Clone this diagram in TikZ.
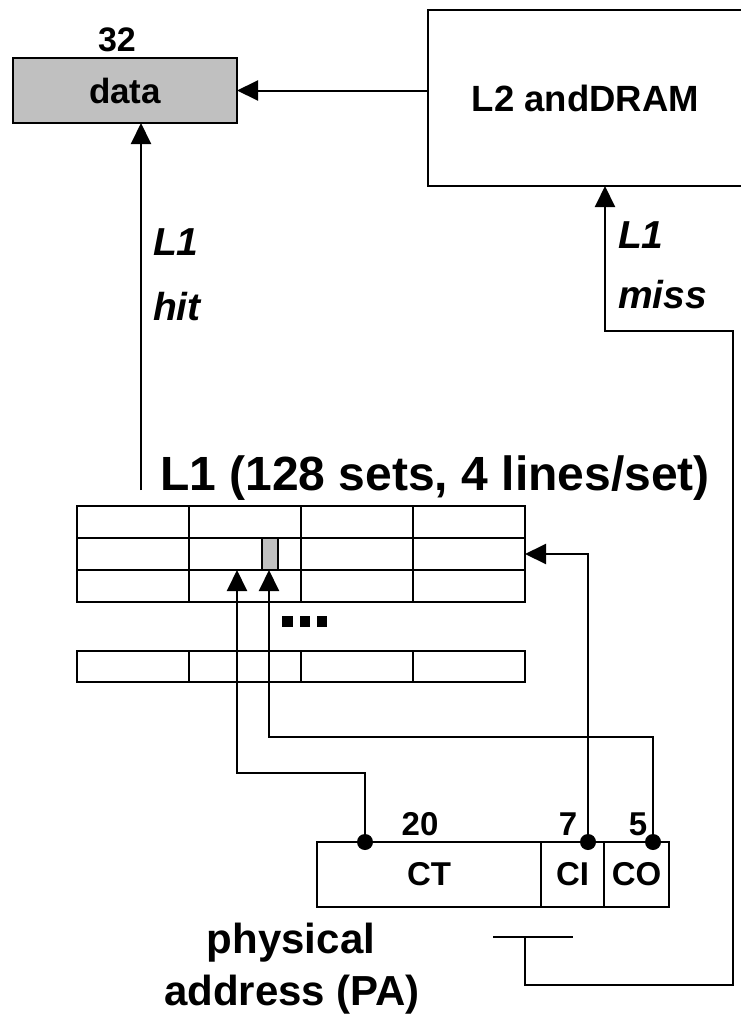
\documentclass[tikz,border=0pt]{standalone}
\usepackage{fontspec}
\setmainfont{Liberation Sans}
\usetikzlibrary{arrows.meta}
\definecolor{boxgray}{HTML}{C0C0C0}
\newcommand\fs[1]{\fontsize{#1}{#1}\selectfont}
\begin{document}
\begin{tikzpicture}[x=1pt,y=-1pt,
  line width=2pt,
  box/.style={draw, rectangle, inner sep=0pt, outer sep=0pt, font=\bfseries},
  lbl/.style={inner sep=0pt, outer sep=0pt, font=\bfseries},
  ilbl/.style={inner sep=0pt, outer sep=0pt, font=\bfseries\itshape, anchor=base west},
  arr/.style={-{Triangle[length=21pt,width=20pt]}},
  pin/.style={circle, fill, inner sep=0pt, minimum size=16pt},
  sq/.style={fill, rectangle, inner sep=0pt, minimum size=10.5pt}]
\useasboundingbox (0,0) rectangle (740,1020);

% top boxes
\node[box, fill=boxgray, minimum width=224pt, minimum height=65pt] (data) at (125,90.5) {\fs{35}data};
\node[lbl, anchor=base] (w32) at (117,51) {\fs{34}32};
\node[box, minimum width=315pt, minimum height=176pt] (l2) at (585.5,98) {\fs{36.5}L2 andDRAM};

% L1 title
\node[lbl, anchor=base] (title) at (435,490) {\fs{48}L1 (128 sets, 4 lines/set)};

% cache grid
\foreach \r/\y in {1/522,2/554,3/586}
  \foreach \c/\x in {1/133,2/245,3/357,4/469}
    \node[box, minimum width=112pt, minimum height=32pt] (cell-\r-\c) at (\x,\y) {};
\foreach \c/\x in {1/133,2/245,3/357,4/469}
  \node[box, minimum width=112pt, minimum height=31pt] (cell-4-\c) at (\x,666.5) {};
\node[box, fill=boxgray, minimum width=16pt, minimum height=32pt] (sel) at (270,554) {};
\node[sq] (e1) at (287.5,621.5) {};
\node[sq] (e2) at (305,621.5) {};
\node[sq] (e3) at (322,621.5) {};

% physical address
\node[box, minimum width=224pt, minimum height=65pt] (ct) at (429,874.5) {\fs{33}CT};
\node[box, minimum width=63pt, minimum height=65pt] (ci) at (572.5,874.5) {\fs{33}CI};
\node[box, minimum width=65pt, minimum height=65pt] (co) at (636.5,874.5) {\fs{33}CO};
\node[lbl, anchor=base] (w20) at (420,835) {\fs{33}20};
\node[lbl, anchor=base] (w7) at (568,835) {\fs{33}7};
\node[lbl, anchor=base] (w5) at (638,835) {\fs{33}5};
\node[pin] (pct) at (365,842) {};
\node[pin] (pci) at (588,842) {};
\node[pin] (pco) at (653,842) {};
\node[lbl, anchor=base] (pa1) at (291,953) {\fs{42}physical};
\node[lbl, anchor=base] (pa2) at (292,1005) {\fs{42}address (PA)};

% labels
\node[ilbl] (hit1) at (153,255) {\fs{39}L1};
\node[ilbl] (hit2) at (153,320) {\fs{39}hit};
\node[ilbl] (miss1) at (618,248) {\fs{39}L1};
\node[ilbl] (miss2) at (618,308) {\fs{39}miss};

% coordinates
\coordinate (hitstart) at (141,490);
\coordinate (tl) at (493,937);
\coordinate (tr) at (573,937);
\coordinate (tbar) at (525,937);
\coordinate (rc) at (733,985);
\coordinate (mc) at (605,331);
\coordinate (ctturn) at (237,773);
\coordinate (coturn) at (269,737);

% connectors
\draw[arr] (l2.west |- data.east) -- (data.east);
\draw[arr] (hitstart) -- (hitstart |- data.south);
\draw (tl) -- (tr);
\draw[arr] (tbar) |- (rc) |- (mc) -- (mc |- l2.south);
\draw[arr] (pci.center) |- (cell-2-4.east);
\draw[arr] (pct.center) |- (ctturn) -- (ctturn |- cell-3-2.north);
\draw[arr] (pco.center) |- (coturn) -- (coturn |- cell-3-2.north);
\end{tikzpicture}
\end{document}
